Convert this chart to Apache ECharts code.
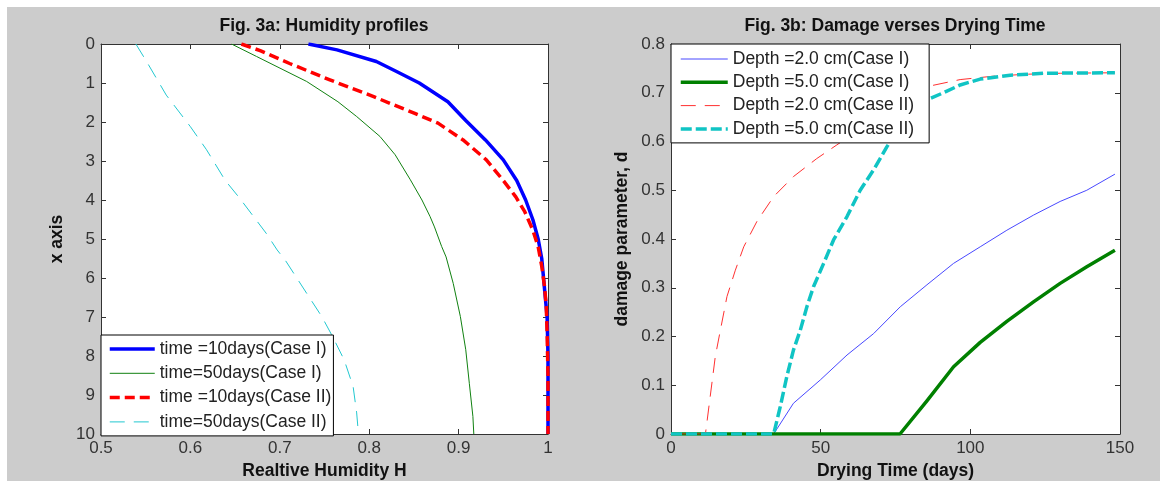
<!DOCTYPE html>
<html>
<head>
<meta charset="utf-8">
<script src="https://cdn.jsdelivr.net/npm/echarts@6/dist/echarts.min.js"></script>
<style>
  html, body { margin: 0; padding: 0; background: #ffffff; }
  #bg { position: absolute; left: 7px; top: 7px; width: 1153px; height: 474px; background: #cccccc; }
  #chart { position: absolute; left: 0; top: 0; width: 1160px; height: 483px; }
</style>
</head>
<body>
<div id="bg"></div>
<div id="chart"></div>
<script>
// ---------- Fig. 3a: Humidity profiles ----------
const humTicksX = [0.5, 1, 0.1];   // min, max, interval
const depthTicks = [0, 10, 1];

const depthA1 = [0, 0.15, 0.45, 0.7, 1.0, 1.48, 1.96, 2.46, 2.97, 3.5, 4.0, 4.5, 5.0, 5.5, 6.0, 6.5, 7.0, 8, 9, 10];
const humA1   = [0.732, 0.764, 0.808, 0.830, 0.856, 0.888, 0.908, 0.930, 0.950, 0.965, 0.975, 0.983, 0.989, 0.993, 0.995, 0.997, 0.999, 1.0, 1.0, 1.0];

const depthA2 = [0, 0.32, 0.96, 1.48, 1.86, 2.37, 2.84, 3.48, 4.0, 4.42, 4.69, 5.19, 5.46, 6.14, 6.99, 7.84, 8.7, 9.55, 10];
const humA2   = [0.646, 0.674, 0.730, 0.765, 0.786, 0.812, 0.829, 0.846, 0.859, 0.868, 0.873, 0.881, 0.886, 0.894, 0.902, 0.908, 0.912, 0.916, 0.917];

const depthA3 = [0, 0.17, 0.5, 0.92, 1.35, 1.78, 2.03, 2.46, 2.97, 3.5, 3.92, 4.3, 4.77, 5.2, 5.7, 6.2, 6.7, 7.4, 8.5, 10];
const humA3   = [0.657, 0.678, 0.711, 0.756, 0.805, 0.851, 0.877, 0.905, 0.931, 0.950, 0.964, 0.974, 0.983, 0.989, 0.993, 0.996, 0.998, 0.999, 1.0, 1.0];

const depthA4 = [0, 0.45, 1.31, 2.12, 2.71, 3.5, 3.95, 4.86, 5.28, 5.54, 6.39, 6.99, 7.5, 8.1, 8.78, 9.46, 10];
const humA4   = [0.539, 0.551, 0.573, 0.600, 0.618, 0.639, 0.655, 0.685, 0.697, 0.706, 0.730, 0.747, 0.759, 0.772, 0.782, 0.786, 0.788];

const namesA = ['time =10days(Case I)', 'time=50days(Case I)', 'time =10days(Case II)', 'time=50days(Case II)'];

// ---------- Fig. 3b: Damage verses Drying Time ----------
const timeTicks = [0, 150, 50];
const damageTicks = [0, 0.8, 0.1];

const timeB1   = [0, 34.3, 40.9, 49.9, 58.8, 67.7, 76.6, 85.5, 94.4, 103.3, 112.2, 121.1, 130, 138.9, 148.3];
const damageB1 = [0, 0, 0.063, 0.111, 0.162, 0.206, 0.261, 0.306, 0.350, 0.384, 0.418, 0.449, 0.477, 0.500, 0.533];

const timeB2   = [0, 76.5, 85.5, 94.4, 103.3, 112.2, 121.1, 130, 138.9, 148.3];
const damageB2 = [0, 0, 0.068, 0.138, 0.188, 0.231, 0.271, 0.309, 0.343, 0.377];

const timeB3   = [0, 11.5, 13.1, 14.8, 16.5, 18.7, 21.5, 24.3, 28.7, 34.3, 40.9, 48.7, 55.4, 60, 65, 70, 75, 80, 86.6, 96.6, 107.7, 118.8, 130, 148.3];
const damageB3 = [0, 0, 0.077, 0.159, 0.213, 0.282, 0.336, 0.384, 0.436, 0.487, 0.528, 0.565, 0.593, 0.612, 0.633, 0.652, 0.673, 0.692, 0.714, 0.727, 0.734, 0.738, 0.740, 0.741];

const timeB4   = [0, 34.3, 36.5, 38.7, 40.9, 43.2, 45.4, 47.6, 51.0, 54.3, 58.8, 63.2, 67.7, 72.1, 76, 80, 86.5, 91.0, 96.6, 103.3, 113.3, 124.4, 148.3];
const damageB4 = [0, 0, 0.056, 0.118, 0.172, 0.213, 0.261, 0.302, 0.350, 0.398, 0.446, 0.500, 0.542, 0.589, 0.625, 0.655, 0.688, 0.700, 0.716, 0.728, 0.736, 0.740, 0.741];

const namesB = ['Depth =2.0 cm(Case I)', 'Depth =5.0 cm(Case I)', 'Depth =2.0 cm(Case II)', 'Depth =5.0 cm(Case II)'];

// ---------- helpers ----------
const FONT = '"Liberation Sans", Arial, Helvetica, sans-serif';
const zip = (xs, ys) => xs.map((x, i) => [x, ys[i]]);

function valueAxis(grid, pos, ticks, opts) {
  const main = pos === 'bottom' || pos === 'left';
  return Object.assign({
    type: 'value', gridIndex: grid, position: pos,
    min: ticks[0], max: ticks[1], interval: ticks[2],
    axisLine: { show: true, onZero: false, lineStyle: { color: '#333333', width: 1 } },
    axisTick: { show: true, inside: true, length: 5, lineStyle: { color: '#333333', width: 1 } },
    axisLabel: { show: main, color: '#333333', fontSize: 17, fontFamily: FONT, margin: 6 },
    splitLine: { show: false },
    nameTextStyle: { color: '#111111', fontSize: 17.5, fontWeight: 'bold', fontFamily: FONT }
  }, opts || {});
}

function lineSeries(name, xi, yi, data, color, width, type) {
  return {
    name: name, type: 'line', xAxisIndex: xi, yAxisIndex: yi,
    data: data, symbol: 'none', showSymbol: false, smooth: false,
    lineStyle: { color: color, width: width, type: type || 'solid', cap: 'butt', join: 'round' },
    itemStyle: { color: color },
    emphasis: { disabled: true },
    animation: false
  };
}

const legendCommon = {
  orient: 'vertical', itemHeight: 14,
  backgroundColor: '#ffffff', borderColor: '#000000', borderWidth: 1, borderRadius: 0,
  selectedMode: false,
  itemStyle: { opacity: 0, borderWidth: 0 },
  lineStyle: { width: 'inherit', type: 'inherit', color: 'inherit' },
  textStyle: { color: '#222222', fontSize: 17.5, fontFamily: FONT, lineHeight: 20 }
};

const chart = echarts.init(document.getElementById('chart'), null, { renderer: 'canvas' });

const option = {
  backgroundColor: 'transparent',
  animation: false,
  title: [
    { text: 'Fig. 3a: Humidity profiles', left: 324, top: 17, padding: 0, textAlign: 'center',
      textStyle: { color: '#111111', fontSize: 17.5, fontWeight: 'bold', fontFamily: FONT } },
    { text: 'Fig. 3b: Damage verses Drying Time', left: 895, top: 17, padding: 0, textAlign: 'center',
      textStyle: { color: '#111111', fontSize: 17.5, fontWeight: 'bold', fontFamily: FONT } }
  ],
  grid: [
    { left: 101, right: 612, top: 44, bottom: 49, show: true, backgroundColor: '#ffffff', borderWidth: 0, containLabel: false, outerBoundsMode: 'none' },
    { left: 671, right: 40, top: 44, bottom: 49, show: true, backgroundColor: '#ffffff', borderWidth: 0, containLabel: false, outerBoundsMode: 'none' }
  ],
  xAxis: [
    valueAxis(0, 'bottom', humTicksX, { name: 'Realtive Humidity H', nameLocation: 'middle', nameGap: 27 }),
    valueAxis(0, 'top', humTicksX),
    valueAxis(1, 'bottom', timeTicks, { name: 'Drying Time (days)', nameLocation: 'middle', nameGap: 27 }),
    valueAxis(1, 'top', timeTicks)
  ],
  yAxis: [
    valueAxis(0, 'left', depthTicks, { inverse: true, name: 'x axis', nameLocation: 'middle', nameGap: 35, nameRotate: 90 }),
    valueAxis(0, 'right', depthTicks, { inverse: true }),
    valueAxis(1, 'left', damageTicks, { name: 'damage parameter, d', nameLocation: 'middle', nameGap: 40, nameRotate: 90 }),
    valueAxis(1, 'right', damageTicks)
  ],
  legend: [
    Object.assign({}, legendCommon, { data: namesA, left: 101, top: 335, padding: [4, 2, 4, 7], itemWidth: 45, itemGap: 4.3 }),
    Object.assign({}, legendCommon, { data: namesB, left: 671, top: 44, padding: [5, 15, 4, 8], itemWidth: 47, itemGap: 3.3 })
  ],
  series: [
    lineSeries(namesA[0], 0, 0, zip(humA1, depthA1), '#0000ff', 3.5),
    lineSeries(namesA[1], 0, 0, zip(humA2, depthA2), '#108010', 1),
    lineSeries(namesA[2], 0, 0, zip(humA3, depthA3), '#ff0000', 3.5, [10, 5]),
    lineSeries(namesA[3], 0, 0, zip(humA4, depthA4), '#22c8d0', 1, [15, 9]),
    lineSeries(namesB[0], 2, 2, zip(timeB1, damageB1), '#4848ff', 1),
    lineSeries(namesB[1], 2, 2, zip(timeB2, damageB2), '#008000', 3.5),
    lineSeries(namesB[2], 2, 2, zip(timeB3, damageB3), '#ff3030', 1, [15, 9]),
    lineSeries(namesB[3], 2, 2, zip(timeB4, damageB4), '#10c4c4', 3.5, [11, 4])
  ]
};

chart.setOption(option);
</script>
</body>
</html>
